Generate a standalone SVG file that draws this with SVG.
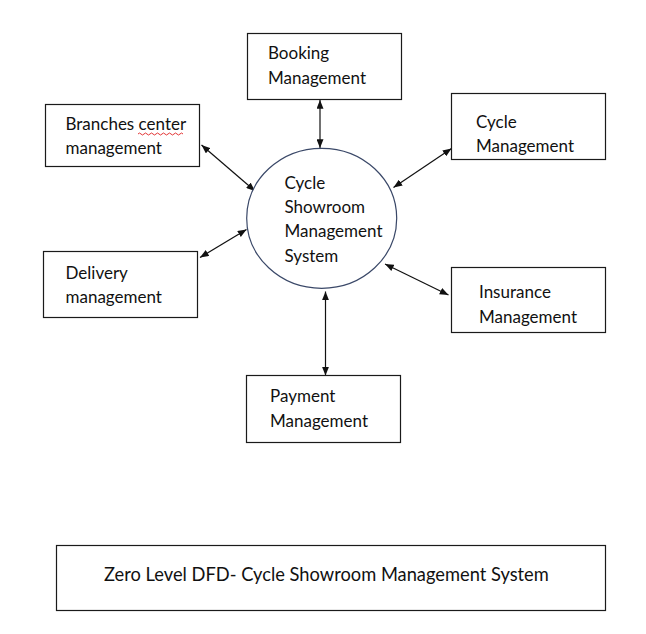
<svg xmlns="http://www.w3.org/2000/svg" width="646" height="634" viewBox="0 0 646 634">
<defs>
<style>
.box{fill:#fff;stroke:#1a1a1a;stroke-width:1.2}
.t{font-family:Lato,"Liberation Sans",sans-serif;font-size:17px;fill:#111}
.title{font-family:Lato,"Liberation Sans",sans-serif;font-size:18.3px;fill:#111}
.c{stroke:#111;stroke-width:1.2;fill:none;marker-start:url(#ah);marker-end:url(#ah)}
</style>
<marker id="ah" viewBox="0 0 10 8" refX="10" refY="4" markerWidth="9" markerHeight="7" markerUnits="userSpaceOnUse" orient="auto-start-reverse">
<path d="M0,0 L10,4 L0,8 z" fill="#111"/>
</marker>
</defs>
<rect width="646" height="634" fill="#fff"/>
<g id="connectors">
<line class="c" x1="320" y1="100" x2="320" y2="148"/>
<line class="c" x1="201.5" y1="145" x2="255" y2="191"/>
<line class="c" x1="451.5" y1="148.5" x2="393.5" y2="187.5"/>
<line class="c" x1="200" y1="257.5" x2="246.5" y2="229.5"/>
<line class="c" x1="385" y1="264" x2="448.5" y2="295"/>
<line class="c" x1="325.5" y1="291.5" x2="325.5" y2="375.5"/>
</g>
<g id="booking">
<rect class="box" x="247.5" y="33.5" width="154" height="66"/>
<text class="t" x="268" y="59">Booking</text>
<text class="t" x="268" y="84">Management</text>
</g>
<g id="branches">
<rect class="box" x="45.5" y="104.5" width="154" height="62"/>
<text class="t" x="65.5" y="130">Branches center</text>
<text class="t" x="65.5" y="154">management</text>
<path d="M138,134 q1.5,-2 3,0 t3,0 t3,0 t3,0 t3,0 t3,0 t3,0 t3,0 t3,0 t3,0 t3,0 t3,0 t3,0 t3,0 t3,0" fill="none" stroke="#e02020" stroke-width="0.9"/>
</g>
<g id="cycle">
<rect class="box" x="451.5" y="93.5" width="154" height="66"/>
<text class="t" x="476" y="127.5">Cycle</text>
<text class="t" x="476" y="152">Management</text>
</g>
<g id="system">
<ellipse cx="321.7" cy="218.3" rx="75" ry="70" fill="#fff" stroke="#3a4868" stroke-width="1.2"/>
<text class="t" x="284.5" y="189">Cycle</text>
<text class="t" x="284.5" y="213">Showroom</text>
<text class="t" x="284.5" y="237">Management</text>
<text class="t" x="284.5" y="261.5">System</text>
</g>
<g id="delivery">
<rect class="box" x="43.5" y="251.5" width="154" height="66"/>
<text class="t" x="65.5" y="279">Delivery</text>
<text class="t" x="65.5" y="303">management</text>
</g>
<g id="insurance">
<rect class="box" x="451.5" y="267.5" width="154" height="65"/>
<text class="t" x="479" y="298">Insurance</text>
<text class="t" x="479" y="323">Management</text>
</g>
<g id="payment">
<rect class="box" x="246.5" y="375.5" width="154" height="67"/>
<text class="t" x="270" y="402">Payment</text>
<text class="t" x="270" y="427">Management</text>
</g>
<g id="title">
<rect class="box" x="56.5" y="545.5" width="549" height="65"/>
<text class="title" x="104" y="581">Zero Level DFD- Cycle Showroom Management System</text>
</g>
</svg>
